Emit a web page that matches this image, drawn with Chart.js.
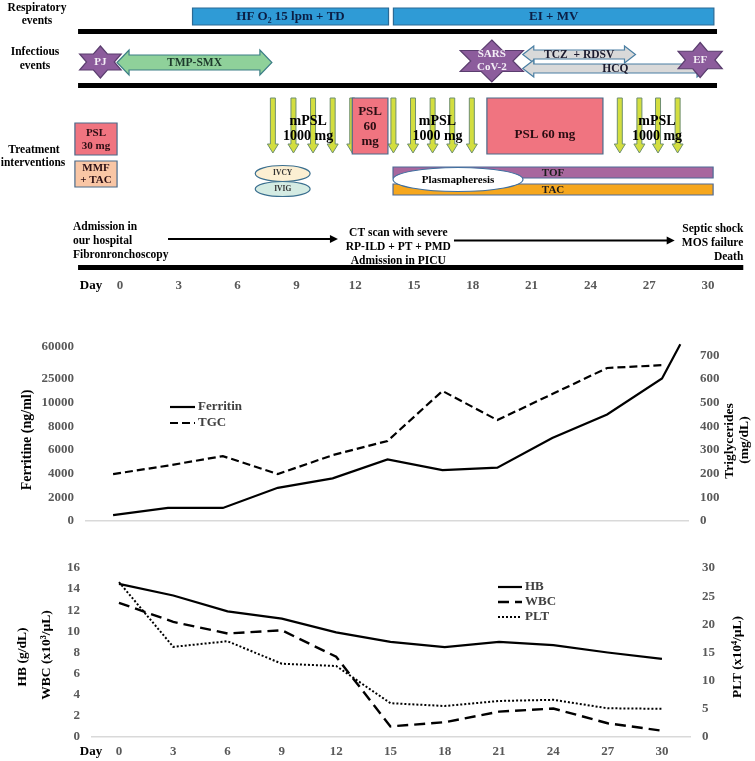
<!DOCTYPE html>
<html>
<head>
<meta charset="utf-8">
<script src="https://cdn.jsdelivr.net/npm/chart.js@4.4.1/dist/chart.umd.min.js"></script>
<style>
  body { margin: 0; background: #fff; }
  #wrap { position: relative; width: 755px; height: 761px; }
  canvas { position: absolute; left: 0; }
</style>
</head>
<body>
<div id="wrap">
  <canvas id="timeline" width="755" height="300" style="top:0px"></canvas>
  <canvas id="labs" width="755" height="225" style="top:320px"></canvas>
  <canvas id="blood" width="755" height="221" style="top:540px"></canvas>
</div>
<script>
// ---- data ----
const dayTicks = [0, 3, 6, 9, 12, 15, 18, 21, 24, 27, 30];
const days = [0, 3, 6, 9, 12, 15, 18, 21, 24, 27, 30];

const ferritinDays = [0, 3, 6, 9, 12, 15, 18, 21, 24, 27, 30, 31];
const ferritin = [500, 1100, 1100, 2800, 3600, 5200, 4300, 4500, 7000, 9000, 25500, 62000];
const tgc = [198, 234, 274, 198, 278, 338, 549, 426, 536, 646, 658];
const ferritinTicks = [0, 2000, 4000, 6000, 8000, 10000, 25000, 60000];
const tgcTicks = [0, 100, 200, 300, 400, 500, 600, 700];

const hb = [14.5, 13.4, 11.9, 11.2, 9.9, 9.0, 8.5, 9.0, 8.7, 8.0, 7.4];
const wbc = [12.7, 10.9, 9.8, 10.1, 7.6, 1.0, 1.4, 2.4, 2.7, 1.3, 0.6];
const plt = [27.5, 16.0, 17.0, 13.0, 12.6, 6.0, 5.5, 6.4, 6.6, 5.1, 5.0];
const hbTicks = [0, 2, 4, 6, 8, 10, 12, 14, 16];
const pltTicks = [0, 5, 10, 15, 20, 25, 30];

// timeline (days)
const respiratoryEvents = [
  { label: 'HF O\u2082 15 lpm + TD', start: 3.7, end: 13.7 },
  { label: 'EI + MV', start: 13.95, end: 30.3 }
];
const infections = [
  { label: ['PJ'], day: -1.0 },
  { label: ['SARS', 'CoV-2'], day: 18.97 },
  { label: ['EF'], day: 29.6 }
];
const antimicrobials = [
  { label: 'TMP-SMX', start: -0.15, end: 7.75 },
  { label: 'TCZ  + RDSV', start: 20.55, end: 26.3 },
  { label: 'HCQ', start: 20.55, end: 30.0 }
];
const mpslPulseDays = [7.8, 8.85, 9.85, 10.85, 11.85, 13.95, 14.95, 15.95, 16.95, 17.95, 25.5, 26.5, 27.45, 28.45];
const mpslLabelDays = [9.6, 16.2, 27.4];
const steroidBoxes = [
  { label: ['PSL', '30 mg'], start: -2.3, end: -0.15 },
  { label: ['MMF', '+ TAC'], start: -2.3, end: -0.15 },
  { label: ['PSL', '60', 'mg'], start: 11.85, end: 13.67 },
  { label: ['PSL 60 mg'], start: 18.72, end: 24.64 }
];
const ivTherapies = [
  { label: 'IVCY', start: 6.9, end: 9.7 },
  { label: 'IVIG', start: 6.9, end: 9.7 }
];
const maintenance = [
  { label: 'TOF', start: 13.93, end: 30.26 },
  { label: 'TAC', start: 13.93, end: 30.26 }
];
const plasmapheresis = { label: 'Plasmapheresis', start: 13.93, end: 20.56 };
const milestones = [
  { day: -2.4, lines: ['Admission in', 'our hospital', 'Fibronronchoscopy'] },
  { day: 14.2, lines: ['CT scan with severe', 'RP-ILD + PT + PMD', 'Admission in PICU'] },
  { day: 31.8, lines: ['Septic shock', 'MOS failure', 'Death'] }
];
const progressArrows = [[2.45, 11.12], [17.04, 28.3]];
const separatorSpan = [-2.14, 30.46];
const baselineSpan = [-2.14, 31.8];

// ---- drawing helpers ----
const SERIF = '"Liberation Serif", "Times New Roman", serif';
const GRAY = '#595959';
Chart.defaults.font.family = SERIF;
Chart.defaults.font.weight = 'bold';

function text(ctx, str, x, y, size, color, align) {
  ctx.font = 'bold ' + size + 'px ' + SERIF;
  ctx.fillStyle = color || '#000';
  ctx.textAlign = align || 'center';
  ctx.textBaseline = 'middle';
  ctx.fillText(str, x, y);
}
function vtext(ctx, str, x, y, size, color) {
  ctx.save();
  ctx.translate(x, y);
  ctx.rotate(-Math.PI / 2);
  text(ctx, str, 0, 0, size, color);
  ctx.restore();
}
function paint(ctx, fill, stroke, lw) {
  if (fill) { ctx.fillStyle = fill; ctx.fill(); }
  if (stroke) { ctx.lineWidth = lw || 1.2; ctx.strokeStyle = stroke; ctx.stroke(); }
}
function box(ctx, x1, y1, x2, y2, fill, stroke) {
  ctx.beginPath();
  ctx.rect(x1, y1, x2 - x1, y2 - y1);
  paint(ctx, fill, stroke);
}
function oval(ctx, x1, x2, cy, ry, fill, stroke) {
  ctx.beginPath();
  ctx.ellipse((x1 + x2) / 2, cy, (x2 - x1) / 2, ry, 0, 0, Math.PI * 2);
  paint(ctx, fill, stroke);
}
function hexagram(ctx, cx, cy, rx, ry, fill, stroke) {
  ctx.beginPath();
  for (let k = 0; k < 12; k++) {
    const a = -Math.PI / 2 + k * Math.PI / 6;
    const r = k % 2 ? 1 / Math.sqrt(3) : 1;
    const px = cx + Math.cos(a) * rx * r, py = cy + Math.sin(a) * ry * r;
    if (k) ctx.lineTo(px, py); else ctx.moveTo(px, py);
  }
  ctx.closePath();
  paint(ctx, fill, stroke);
}
function doubleArrow(ctx, x1, x2, cy, hb2, hh, hl, fill, stroke) {
  ctx.beginPath();
  ctx.moveTo(x1, cy);
  ctx.lineTo(x1 + hl, cy - hh);
  ctx.lineTo(x1 + hl, cy - hb2);
  ctx.lineTo(x2 - hl, cy - hb2);
  ctx.lineTo(x2 - hl, cy - hh);
  ctx.lineTo(x2, cy);
  ctx.lineTo(x2 - hl, cy + hh);
  ctx.lineTo(x2 - hl, cy + hb2);
  ctx.lineTo(x1 + hl, cy + hb2);
  ctx.lineTo(x1 + hl, cy + hh);
  ctx.closePath();
  paint(ctx, fill, stroke);
}
function downArrow(ctx, cx, y1, y2, fill, stroke) {
  const sw = 2.5, hw = 5.5, hl = 9;
  ctx.beginPath();
  ctx.moveTo(cx - sw, y1);
  ctx.lineTo(cx + sw, y1);
  ctx.lineTo(cx + sw, y2 - hl);
  ctx.lineTo(cx + hw, y2 - hl);
  ctx.lineTo(cx, y2);
  ctx.lineTo(cx - hw, y2 - hl);
  ctx.lineTo(cx - sw, y2 - hl);
  ctx.closePath();
  paint(ctx, fill, stroke, 1);
}
function lineArrow(ctx, x1, x2, y) {
  ctx.beginPath();
  ctx.moveTo(x1, y);
  ctx.lineTo(x2 - 7, y);
  ctx.lineWidth = 2.2;
  ctx.strokeStyle = '#000';
  ctx.stroke();
  ctx.beginPath();
  ctx.moveTo(x2, y);
  ctx.lineTo(x2 - 8, y - 4);
  ctx.lineTo(x2 - 8, y + 4);
  ctx.closePath();
  paint(ctx, '#000');
}
function thickLine(ctx, x1, x2, y) {
  ctx.fillStyle = '#000';
  ctx.fillRect(x1, y - 2.5, x2 - x1, 5);
}

// ---- timeline panel ----
const timelinePlugin = {
  id: 'timeline',
  afterDraw(chart) {
    const ctx = chart.ctx;
    const X = d => chart.scales.x.getPixelForValue(d);
    ctx.save();

    text(ctx, 'Respiratory', 37, 8, 11.5);
    text(ctx, 'events', 37, 21, 11.5);
    text(ctx, 'Infectious', 35, 52, 11.5);
    text(ctx, 'events', 35, 66, 11.5);
    text(ctx, 'Treatment', 34, 150, 11.5);
    text(ctx, 'interventions', 33, 163, 11.5);

    // respiratory support
    respiratoryEvents.forEach(e => {
      box(ctx, X(e.start), 8, X(e.end), 25, '#2f9bd6', '#2b6a95');
      text(ctx, e.label, (X(e.start) + X(e.end)) / 2, 17, 13, '#0b1f45');
    });
    thickLine(ctx, X(separatorSpan[0]), X(separatorSpan[1]), 31.5);

    // infections and antimicrobials
    const arrowRows = [
      { cy: 62.5, hb: 7.5, hh: 12.5, hl: 12, fill: '#8fd19a', stroke: '#3d7f86', color: '#1d3a2c' },
      { cy: 54.5, hb: 4.5, hh: 8.5, hl: 11, fill: '#d9d9d9', stroke: '#4a7fa3', color: '#1a1a2e' },
      { cy: 68.5, hb: 4.5, hh: 8.5, hl: 11, fill: '#d9d9d9', stroke: '#4a7fa3', color: '#1a1a2e' }
    ];
    antimicrobials.forEach((a, i) => {
      const r = arrowRows[i];
      doubleArrow(ctx, X(a.start), X(a.end), r.cy, r.hb, r.hh, r.hl, r.fill, r.stroke);
      text(ctx, a.label, (X(a.start) + X(a.end)) / 2, r.cy + 0.5, 11.5, r.color);
    });
    const starSizes = [
      { rx: 24, ry: 16, cy: 62 },
      { rx: 36.5, ry: 21, cy: 61 },
      { rx: 25.5, ry: 17.5, cy: 60 }
    ];
    infections.forEach((s, i) => {
      const st = starSizes[i];
      hexagram(ctx, X(s.day), st.cy, st.rx, st.ry, '#8c5c9c', '#5a3d6e');
      const n = s.label.length;
      s.label.forEach((t, j) => text(ctx, t, X(s.day), st.cy + (j - (n - 1) / 2) * 13, 11, '#f4eef6'));
    });
    thickLine(ctx, X(separatorSpan[0]), X(separatorSpan[1]), 85.5);

    // treatment
    mpslPulseDays.forEach(d => downArrow(ctx, X(d), 98, 153, '#d3de3f', '#6f8f70'));
    const boxRows = [
      { y1: 123, y2: 155, fill: '#f07480', size: 11, ys: [133, 146] },
      { y1: 161, y2: 187, fill: '#f9c6a5', size: 11, ys: [168.5, 180.5] },
      { y1: 98, y2: 154, fill: '#f07480', size: 13, ys: [112, 127, 142] },
      { y1: 98, y2: 154, fill: '#f07480', size: 13, ys: [135] }
    ];
    steroidBoxes.forEach((b, i) => {
      const r = boxRows[i];
      box(ctx, X(b.start), r.y1, X(b.end), r.y2, r.fill, '#4a6a8a');
      b.label.forEach((t, j) => text(ctx, t, (X(b.start) + X(b.end)) / 2, r.ys[j], r.size, '#2a0d12'));
    });
    mpslLabelDays.forEach(d => {
      text(ctx, 'mPSL', X(d), 121, 14);
      text(ctx, '1000 mg', X(d), 136, 14);
    });

    const ivRows = [{ cy: 173.5, ry: 8, fill: '#fcefd2' }, { cy: 189, ry: 7.5, fill: '#d4ebe3' }];
    ivTherapies.forEach((t, i) => {
      const r = ivRows[i];
      oval(ctx, X(t.start), X(t.end), r.cy, r.ry, r.fill, '#3b6f8f');
      text(ctx, t.label, (X(t.start) + X(t.end)) / 2, r.cy, 7.5, '#333');
    });

    const barRows = [{ y1: 167, y2: 178, fill: '#a8679e' }, { y1: 184, y2: 195, fill: '#f6a71e' }];
    maintenance.forEach((m, i) => {
      const r = barRows[i];
      box(ctx, X(m.start), r.y1, X(m.end), r.y2, r.fill, '#4e6a96');
      text(ctx, m.label, (X(m.start) + X(m.end)) / 2, (r.y1 + r.y2) / 2 + 0.5, 11, '#1b1b1b');
    });
    oval(ctx, X(plasmapheresis.start), X(plasmapheresis.end), 179.5, 12, '#ffffff', '#3f6f9f');
    text(ctx, plasmapheresis.label, (X(plasmapheresis.start) + X(plasmapheresis.end)) / 2, 180, 11);

    // clinical course
    const alignments = ['left', 'center', 'right'];
    const lineTops = [227, 233, 229];
    milestones.forEach((m, i) => {
      m.lines.forEach((t, j) => text(ctx, t, X(m.day), lineTops[i] + j * 14, 11.5, '#000', alignments[i]));
    });
    lineArrow(ctx, X(progressArrows[0][0]), X(progressArrows[0][1]), 239);
    lineArrow(ctx, X(progressArrows[1][0]), X(progressArrows[1][1]), 240.5);
    thickLine(ctx, X(baselineSpan[0]), X(baselineSpan[1]), 267.5);

    const xs = chart.scales.x;
    text(ctx, 'Day', 91, xs.top + xs.options.ticks.padding + 8, 13);
    ctx.restore();
  }
};

new Chart(document.getElementById('timeline'), {
  type: 'scatter',
  data: { datasets: [] },
  options: {
    responsive: false,
    animation: false,
    events: [],
    layout: { padding: { left: 120, right: 47, top: 0, bottom: 4 } },
    plugins: { legend: { display: false }, tooltip: { enabled: false } },
    scales: {
      x: {
        type: 'linear', min: 0, max: 30,
        afterBuildTicks: s => { s.ticks = dayTicks.map(v => ({ value: v })); },
        afterFit: s => { s.height = 22; },
        grid: { display: false, drawTicks: false },
        border: { display: false },
        ticks: { padding: 4, color: GRAY, font: { size: 13, weight: 'bold' }, autoSkip: false, maxRotation: 0 }
      },
      y: { display: false, min: 0, max: 1 }
    }
  },
  plugins: [timelinePlugin]
});

// ---- broken ferritin axis ----
const BROKEN_STOPS = [0, 1, 2, 3, 4, 5, 6, 7.38];
const BROKEN_TOP = 7.6;
class BrokenScale extends Chart.LinearScale {
  static id = 'broken';
  static defaults = {};
  toStep(v) {
    const t = ferritinTicks;
    let i = 1;
    while (i < t.length - 1 && v > t[i]) i++;
    return BROKEN_STOPS[i - 1] + (v - t[i - 1]) / (t[i] - t[i - 1]) * (BROKEN_STOPS[i] - BROKEN_STOPS[i - 1]);
  }
  getPixelForValue(v) {
    return this.getPixelForDecimal(this.toStep(v) / BROKEN_TOP);
  }
}
Chart.register(BrokenScale);

function drawLegend(chart, x, y0, dy, len) {
  const ctx = chart.ctx;
  chart.data.datasets.forEach((ds, i) => {
    const y = y0 + i * dy;
    ctx.save();
    ctx.beginPath();
    ctx.setLineDash(ds.borderDash || []);
    ctx.lineWidth = ds.borderWidth;
    ctx.strokeStyle = ds.borderColor;
    ctx.moveTo(x, y);
    ctx.lineTo(x + len, y);
    ctx.stroke();
    ctx.restore();
    text(ctx, ds.label, x + len + 3, y, 13, '#404040', 'left');
  });
}

const tickFont = { size: 13, weight: 'bold' };

new Chart(document.getElementById('labs'), {
  type: 'line',
  data: {
    datasets: [
      { label: 'Ferritin', data: ferritinDays.map((d, i) => ({ x: d, y: ferritin[i] })), yAxisID: 'yF',
        borderColor: '#000', borderWidth: 2.2, pointRadius: 0 },
      { label: 'TGC', data: days.map((d, i) => ({ x: d, y: tgc[i] })), yAxisID: 'yT',
        borderColor: '#000', borderWidth: 2.2, borderDash: [8, 4], pointRadius: 0 }
    ]
  },
  options: {
    responsive: false,
    animation: false,
    events: [],
    layout: { padding: { left: 0, right: 0, top: 21, bottom: 24 } },
    plugins: { legend: { display: false }, tooltip: { enabled: false } },
    scales: {
      x: {
        type: 'linear', min: -1.48, max: 31.42,
        afterFit: s => { s.height = 0; },
        grid: { display: false, drawTicks: false },
        ticks: { display: false },
        border: { color: '#d9d9d9', width: 1.5 }
      },
      yF: {
        type: 'broken', position: 'left', min: 0, max: 60000,
        afterBuildTicks: s => { s.ticks = ferritinTicks.map(v => ({ value: v })); },
        afterFit: s => { s.width = 86; },
        grid: { display: false, drawTicks: false },
        border: { display: false },
        ticks: { padding: 12, color: GRAY, font: tickFont, autoSkip: false, callback: v => String(v) }
      },
      yT: {
        type: 'linear', position: 'right', min: 0, max: 760,
        afterBuildTicks: s => { s.ticks = tgcTicks.map(v => ({ value: v })); },
        afterFit: s => { s.width = 67; },
        grid: { display: false, drawTicks: false },
        border: { display: false },
        ticks: { padding: 12, color: GRAY, font: tickFont, autoSkip: false, callback: v => String(v) }
      }
    }
  },
  plugins: [{
    id: 'labsDecor',
    afterDraw(chart) {
      const ctx = chart.ctx;
      vtext(ctx, 'Ferritine (ng/ml)', 27, 120, 14, '#000');
      vtext(ctx, 'Triglycerides', 730, 121, 13.5, '#000');
      vtext(ctx, '(mg/dL)', 745, 120, 13.5, '#000');
      drawLegend(chart, 170, 87, 16, 25);
    }
  }]
});

new Chart(document.getElementById('blood'), {
  type: 'line',
  data: {
    datasets: [
      { label: 'HB', data: days.map((d, i) => ({ x: d, y: hb[i] })), yAxisID: 'yL',
        borderColor: '#000', borderWidth: 2.2, pointRadius: 0 },
      { label: 'WBC', data: days.map((d, i) => ({ x: d, y: wbc[i] })), yAxisID: 'yL',
        borderColor: '#000', borderWidth: 2.4, borderDash: [11, 6], pointRadius: 0 },
      { label: 'PLT', data: days.map((d, i) => ({ x: d, y: plt[i] })), yAxisID: 'yR',
        borderColor: '#000', borderWidth: 2, borderDash: [2, 2], pointRadius: 0 }
    ]
  },
  options: {
    responsive: false,
    animation: false,
    events: [],
    layout: { padding: { left: 0, right: 0, top: 28, bottom: 0 } },
    plugins: { legend: { display: false }, tooltip: { enabled: false } },
    scales: {
      x: {
        type: 'linear', min: -1.49, max: 31.55,
        afterBuildTicks: s => { s.ticks = dayTicks.map(v => ({ value: v })); },
        afterFit: s => { s.height = 24; },
        grid: { display: false, drawTicks: false },
        border: { color: '#d9d9d9', width: 1.5 },
        ticks: { padding: 7, color: GRAY, font: tickFont, autoSkip: false, maxRotation: 0 }
      },
      yL: {
        type: 'linear', position: 'left', min: 0, max: 16,
        afterBuildTicks: s => { s.ticks = hbTicks.map(v => ({ value: v })); },
        afterFit: s => { s.width = 92; },
        grid: { display: false, drawTicks: false },
        border: { display: false },
        ticks: { padding: 12, color: GRAY, font: tickFont, autoSkip: false }
      },
      yR: {
        type: 'linear', position: 'right', min: 0, max: 30,
        afterBuildTicks: s => { s.ticks = pltTicks.map(v => ({ value: v })); },
        afterFit: s => { s.width = 65; },
        grid: { display: false, drawTicks: false },
        border: { display: false },
        ticks: { padding: 12, color: GRAY, font: tickFont, autoSkip: false }
      }
    }
  },
  plugins: [{
    id: 'bloodDecor',
    afterDraw(chart) {
      const ctx = chart.ctx;
      vtext(ctx, 'HB (g/dL)', 23, 117, 13.5, '#000');
      vtext(ctx, 'WBC (x10\u00b3/\u00b5L)', 47, 115, 13.5, '#000');
      vtext(ctx, 'PLT (x10\u2074/\u00b5L)', 738, 117, 13.5, '#000');
      drawLegend(chart, 498, 47, 15, 24);
      const xs = chart.scales.x;
      text(ctx, 'Day', 91, xs.top + xs.options.ticks.padding + 8, 13);
    }
  }]
});
</script>
</body>
</html>
